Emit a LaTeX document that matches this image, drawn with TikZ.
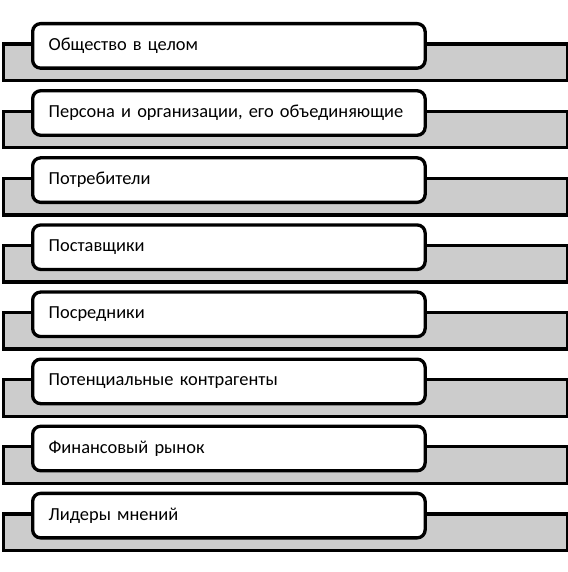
\documentclass[tikz,border=0pt]{standalone}
\usepackage{fontspec}
\setmainfont{Carlito}
\definecolor{bandgray}{gray}{0.8}
\tikzset{
  band/.style={draw, line width=3.3pt, fill=bandgray, minimum width=564pt,
    minimum height=36.5pt, inner sep=0pt, anchor=north west},
  labelbox/.style={draw, line width=3.3pt, fill=white, rounded corners=8pt,
    text width=360.5pt, align=left, inner xsep=16pt, inner ysep=0pt,
    minimum height=44.5pt, anchor=north west, font=\fontsize{18.4}{22}\selectfont}
}

\begin{document}
\begin{tikzpicture}[x=1pt, y=1pt]
	\def\pitch{67.1};
	\def\boxx{31};
	\def\boxy{22};
	\def\bandx{1.5};
	\def\bandy{42.5};

	\useasboundingbox (0,0) rectangle (567,-572);

	\node[band] (band1) at (\bandx,-\bandy) {};
	\node[labelbox] (box1) at (\boxx,-\boxy) {Общество в целом};

	\node[band] (band2) at (\bandx,-\bandy-\pitch) {};
	\node[labelbox] (box2) at (\boxx,-\boxy-\pitch) {Персона и организации, его объединяющие};

	\node[band] (band3) at (\bandx,-\bandy-2*\pitch) {};
	\node[labelbox] (box3) at (\boxx,-\boxy-2*\pitch) {Потребители};

	\node[band] (band4) at (\bandx,-\bandy-3*\pitch) {};
	\node[labelbox] (box4) at (\boxx,-\boxy-3*\pitch) {Поставщики};

	\node[band] (band5) at (\bandx,-\bandy-4*\pitch) {};
	\node[labelbox] (box5) at (\boxx,-\boxy-4*\pitch) {Посредники};

	\node[band] (band6) at (\bandx,-\bandy-5*\pitch) {};
	\node[labelbox] (box6) at (\boxx,-\boxy-5*\pitch) {Потенциальные контрагенты};

	\node[band] (band7) at (\bandx,-\bandy-6*\pitch) {};
	\node[labelbox] (box7) at (\boxx,-\boxy-6*\pitch) {Финансовый рынок};

	\node[band] (band8) at (\bandx,-\bandy-7*\pitch) {};
	\node[labelbox] (box8) at (\boxx,-\boxy-7*\pitch) {Лидеры мнений};
\end{tikzpicture}
\end{document}
